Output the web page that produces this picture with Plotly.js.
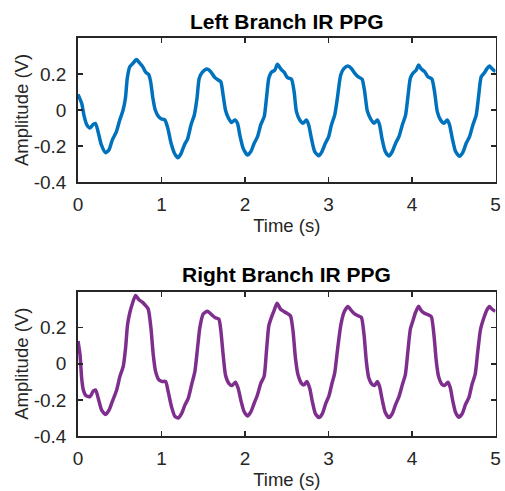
<!DOCTYPE html>
<html>
<head>
<meta charset="utf-8">
<script src="https://cdn.plot.ly/plotly-3.0.1.min.js"></script>
<style>html,body{margin:0;padding:0;background:#fff;}#chart{width:505px;height:491px;}</style>
</head>
<body>
<div id="chart"></div>
<script>
// ---- Data ----
const leftTitle = "Left Branch IR PPG";
const rightTitle = "Right Branch IR PPG";
const xLabel = "Time (s)";
const yLabel = "Amplitude (V)";
const xTicks = [0, 1, 2, 3, 4, 5];
const xTickText = ["0", "1", "2", "3", "4", "5"];
const yTicks = [-0.4, -0.2, 0, 0.2];
const yTickText = ["-0.4", "-0.2", "0", "0.2"];

const leftTime = [
  0, 0.044, 0.075, 0.103, 0.143, 0.183, 0.21, 0.24, 0.28, 0.33,
  0.37, 0.41, 0.46, 0.50, 0.54, 0.568, 0.59, 0.62, 0.66, 0.70,
  0.74, 0.78, 0.81, 0.845, 0.87, 0.897, 0.925, 0.965, 1.0, 1.04,
  1.075, 1.115, 1.155, 1.195, 1.23, 1.274, 1.313, 1.353, 1.393, 1.425,
  1.452, 1.49, 1.544, 1.59, 1.639, 1.678, 1.71, 1.738, 1.766, 1.80,
  1.838, 1.878, 1.91, 1.938, 1.978, 2.03, 2.07, 2.11, 2.15, 2.19,
  2.23, 2.257, 2.285, 2.317, 2.357, 2.389, 2.428, 2.468, 2.508, 2.556,
  2.588, 2.616, 2.656, 2.695, 2.735, 2.763, 2.795, 2.835, 2.883, 2.922,
  2.962, 3.002, 3.035, 3.074, 3.106, 3.146, 3.186, 3.233, 3.274, 3.313,
  3.353, 3.401, 3.433, 3.465, 3.505, 3.544, 3.585, 3.612, 3.64, 3.68,
  3.724, 3.764, 3.804, 3.844, 3.884, 3.923, 3.951, 3.98, 4.011, 4.051,
  4.079, 4.111, 4.151, 4.19, 4.238, 4.27, 4.303, 4.342, 4.382, 4.422,
  4.45, 4.482, 4.522, 4.569, 4.609, 4.649, 4.689, 4.729, 4.769, 4.797,
  4.829, 4.868, 4.9, 4.928, 4.956, 5.0
];
const leftAmp = [
  0.087, 0.037, -0.037, -0.08, -0.10, -0.08, -0.075, -0.12, -0.194, -0.237,
  -0.222, -0.167, -0.12, -0.056, 0, 0.065, 0.176, 0.24, 0.26, 0.28,
  0.26, 0.237, 0.21, 0.198, 0.157, 0.065, 0, -0.037, -0.05, -0.055,
  -0.10, -0.185, -0.24, -0.265, -0.246, -0.194, -0.16, -0.083, -0.028, 0.065,
  0.176, 0.21, 0.228, 0.213, 0.18, 0.167, 0.157, 0.083, 0, -0.043,
  -0.069, -0.056, -0.074, -0.139, -0.213, -0.25, -0.231, -0.185, -0.148, -0.08,
  -0.037, 0.065, 0.176, 0.21, 0.222, 0.254, 0.228, 0.21, 0.18, 0.172,
  0.102, -0.009, -0.056, -0.074, -0.056, -0.083, -0.157, -0.231, -0.254, -0.231,
  -0.185, -0.148, -0.083, -0.028, 0.065, 0.194, 0.231, 0.244, 0.231, 0.205,
  0.185, 0.172, 0.102, -0.006, -0.05, -0.074, -0.056, -0.083, -0.157, -0.231,
  -0.256, -0.231, -0.185, -0.148, -0.083, -0.028, 0.074, 0.176, 0.204, 0.222,
  0.25, 0.228, 0.213, 0.185, 0.172, 0.102, -0.009, -0.056, -0.074, -0.056,
  -0.083, -0.157, -0.231, -0.257, -0.235, -0.185, -0.148, -0.083, -0.028, 0.074,
  0.185, 0.207, 0.231, 0.244, 0.231, 0.213
];

const rightTime = [
  0, 0.024, 0.044, 0.064, 0.096, 0.144, 0.183, 0.21, 0.243, 0.283,
  0.331, 0.371, 0.41, 0.463, 0.502, 0.542, 0.57, 0.594, 0.622, 0.65,
  0.69, 0.73, 0.77, 0.81, 0.841, 0.873, 0.901, 0.929, 0.969, 1.008,
  1.049, 1.08, 1.12, 1.16, 1.2, 1.24, 1.28, 1.32, 1.36, 1.4,
  1.432, 1.459, 1.499, 1.551, 1.599, 1.643, 1.687, 1.711, 1.738, 1.767,
  1.806, 1.846, 1.886, 1.918, 1.95, 1.99, 2.03, 2.07, 2.109, 2.149,
  2.189, 2.229, 2.257, 2.285, 2.317, 2.348, 2.384, 2.424, 2.464, 2.504,
  2.544, 2.575, 2.604, 2.635, 2.676, 2.707, 2.743, 2.775, 2.807, 2.843,
  2.886, 2.927, 2.967, 3.006, 3.042, 3.074, 3.106, 3.146, 3.186, 3.233,
  3.274, 3.313, 3.353, 3.393, 3.425, 3.453, 3.481, 3.52, 3.553, 3.585,
  3.612, 3.64, 3.68, 3.724, 3.764, 3.804, 3.844, 3.884, 3.92, 3.951,
  3.98, 4.011, 4.043, 4.079, 4.111, 4.151, 4.19, 4.231, 4.262, 4.291,
  4.318, 4.358, 4.39, 4.43, 4.458, 4.49, 4.522, 4.561, 4.602, 4.641,
  4.681, 4.717, 4.757, 4.788, 4.821, 4.86, 4.896, 4.928, 4.956, 5.0
];
const rightAmp = [
  0.126, 0.051, -0.08, -0.145, -0.177, -0.182, -0.151, -0.145, -0.192, -0.257,
  -0.281, -0.257, -0.21, -0.145, -0.07, -0.014, 0.089, 0.219, 0.285, 0.331,
  0.378, 0.354, 0.341, 0.322, 0.303, 0.2, 0.051, -0.042, -0.089, -0.098,
  -0.098, -0.154, -0.238, -0.291, -0.3, -0.276, -0.229, -0.192, -0.117, -0.042,
  0.089, 0.2, 0.275, 0.29, 0.272, 0.255, 0.247, 0.182, 0.051, -0.064,
  -0.108, -0.12, -0.102, -0.136, -0.201, -0.266, -0.289, -0.266, -0.22, -0.173,
  -0.108, -0.07, 0.07, 0.21, 0.257, 0.294, 0.335, 0.303, 0.29, 0.279,
  0.266, 0.182, 0.032, -0.061, -0.108, -0.117, -0.098, -0.136, -0.21, -0.276,
  -0.298, -0.276, -0.22, -0.177, -0.108, -0.052, 0.07, 0.21, 0.285, 0.317,
  0.294, 0.276, 0.266, 0.257, 0.163, 0.014, -0.076, -0.113, -0.12, -0.098,
  -0.126, -0.192, -0.27, -0.298, -0.276, -0.225, -0.182, -0.117, -0.061, 0.07,
  0.191, 0.238, 0.285, 0.318, 0.294, 0.279, 0.272, 0.261, 0.163, 0.014,
  -0.07, -0.113, -0.12, -0.102, -0.132, -0.21, -0.27, -0.296, -0.276, -0.225,
  -0.188, -0.117, -0.057, 0.07, 0.191, 0.253, 0.297, 0.317, 0.303, 0.29
];

// ---- Styling ----
const W = 505, H = 491;
const FONT = "Liberation Sans, Arial, Helvetica, sans-serif";
const AX = "#262626";
const blue = "#0072BD";
const purple = "#7E2F8E";

function xAxis(domain, anchor) {
  return {
    domain: domain, anchor: anchor, range: [0, 5],
    tickmode: "array", tickvals: xTicks, ticktext: xTickText,
    ticks: "inside", ticklen: 5, tickwidth: 1.5, tickcolor: AX,
    showline: true, linecolor: AX, linewidth: 1.8, mirror: "ticks",
    showgrid: false, zeroline: false,
    tickfont: {family: FONT, size: 19, color: AX},
    ticklabelstandoff: 4,
    title: {text: xLabel, font: {family: FONT, size: 18.5, color: AX}, standoff: 5}
  };
}
function yAxis(domain, anchor) {
  return {
    domain: domain, anchor: anchor, range: [-0.4, 0.4],
    tickmode: "array", tickvals: yTicks, ticktext: yTickText,
    ticks: "inside", ticklen: 5, tickwidth: 1.5, tickcolor: AX,
    showline: true, linecolor: AX, linewidth: 1.8, mirror: "ticks",
    showgrid: false, zeroline: false,
    tickfont: {family: FONT, size: 19, color: AX},
    ticklabelstandoff: 6,
    title: {text: yLabel, font: {family: FONT, size: 18.5, color: AX}, standoff: 0}
  };
}

const traces = [
  {x: leftTime, y: leftAmp, xaxis: "x", yaxis: "y", type: "scatter", mode: "lines",
   line: {color: blue, width: 3.5, shape: "spline", smoothing: 0.6}, hoverinfo: "skip"},
  {x: rightTime, y: rightAmp, xaxis: "x2", yaxis: "y2", type: "scatter", mode: "lines",
   line: {color: purple, width: 3.5, shape: "spline", smoothing: 0.6}, hoverinfo: "skip"}
];

const xd = [78 / W, 495.5 / W];
const layout = {
  width: W, height: H,
  margin: {l: 0, r: 0, t: 0, b: 0},
  paper_bgcolor: "#ffffff", plot_bgcolor: "#ffffff",
  showlegend: false,
  xaxis: xAxis(xd, "y"),
  yaxis: yAxis([1 - 182 / H, 1 - 38 / H], "x"),
  xaxis2: xAxis(xd, "y2"),
  yaxis2: yAxis([1 - 436 / H, 1 - 291.5 / H], "x2"),
  annotations: [
    {text: leftTitle, xref: "paper", yref: "paper", x: (78 + 495.5) / 2 / W, y: 1 - 21 / H,
     xanchor: "center", yanchor: "middle", showarrow: false,
     font: {family: FONT, size: 21, color: "#000000", weight: "bold"}},
    {text: rightTitle, xref: "paper", yref: "paper", x: (78 + 495.5) / 2 / W, y: 1 - 274 / H,
     xanchor: "center", yanchor: "middle", showarrow: false,
     font: {family: FONT, size: 21, color: "#000000", weight: "bold"}}
  ]
};

Plotly.newPlot("chart", traces, layout, {staticPlot: true, displayModeBar: false});
</script>
</body>
</html>
